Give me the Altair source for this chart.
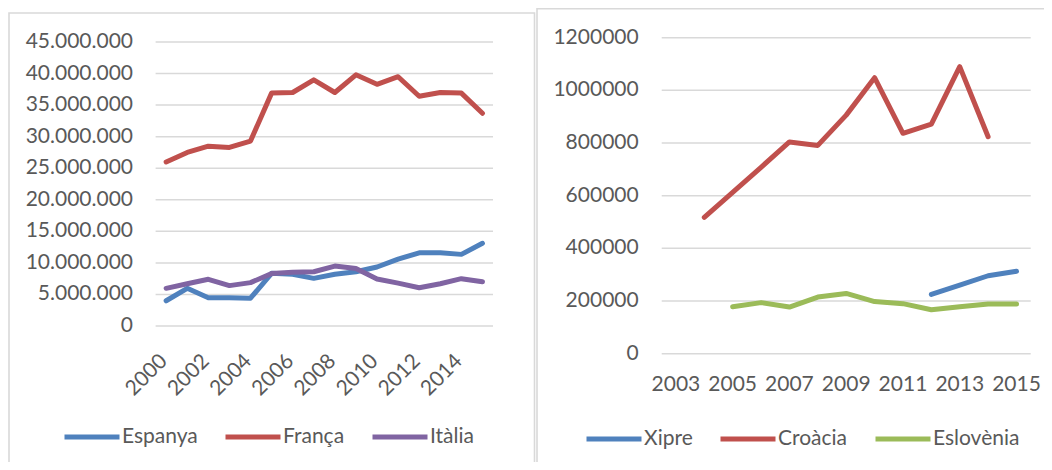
import altair as alt
import pandas as pd

# ---------------- data ----------------
years_left = list(range(2000, 2016))
espanya = [4.0e6, 5.97e6, 4.48e6, 4.48e6, 4.4e6, 8.34e6, 8.2e6, 7.55e6, 8.2e6, 8.6e6,
           9.35e6, 10.6e6, 11.6e6, 11.6e6, 11.35e6, 13.1e6]
franca = [26.0e6, 27.5e6, 28.5e6, 28.3e6, 29.3e6, 36.9e6, 37.0e6, 39.0e6, 37.0e6, 39.8e6,
          38.3e6, 39.5e6, 36.4e6, 37.0e6, 36.9e6, 33.7e6]
italia = [5.97e6, 6.7e6, 7.4e6, 6.4e6, 6.87e6, 8.3e6, 8.5e6, 8.6e6, 9.5e6, 9.1e6,
          7.45e6, 6.8e6, 6.07e6, 6.7e6, 7.5e6, 7.0e6]
names_left = ["Espanya", "França", "Itàlia"]
colors_left = ["#4f81bd", "#c0504d", "#8064a2"]
yticks_left = [0, 5e6, 10e6, 15e6, 20e6, 25e6, 30e6, 35e6, 40e6, 45e6]
ylabels_left = ["0", "5.000.000", "10.000.000", "15.000.000", "20.000.000", "25.000.000",
                "30.000.000", "35.000.000", "40.000.000", "45.000.000"]
xticks_left = [2000, 2002, 2004, 2006, 2008, 2010, 2012, 2014]

years_xipre = [2012, 2013, 2014, 2015]
xipre = [225000, 260000, 296000, 313000]
years_croacia = list(range(2004, 2015))
croacia = [518000, 613000, 708000, 804000, 791000, 906000, 1048000, 837000, 872000, 1090000, 824000]
years_eslovenia = list(range(2005, 2016))
eslovenia = [178000, 194000, 177000, 215000, 229000, 198000, 190000, 167000, 178000, 189000, 189000]
names_right = ["Xipre", "Croàcia", "Eslovènia"]
colors_right = ["#4f81bd", "#c0504d", "#9bbb59"]
yticks_right = [0, 200000, 400000, 600000, 800000, 1000000, 1200000]
xticks_right = [2003, 2005, 2007, 2009, 2011, 2013, 2015]

# ---------------- layout ----------------
W, H = 1036, 454
FONT = "Lato"
TXT = "#595959"
GRID = "#d9d9d9"
FS = 21
LX, LY = [147.6, 485.0], [318.0, 34.0]
RX, RY = [653.7, 1022.7], [345.7, 29.7]

left_df = pd.DataFrame({
    "Any": years_left * 3,
    "Valor": espanya + franca + italia,
    "País": [names_left[0]] * 16 + [names_left[1]] * 16 + [names_left[2]] * 16,
})
right_df = pd.DataFrame({
    "Any": years_xipre + years_croacia + years_eslovenia,
    "Valor": xipre + croacia + eslovenia,
    "País": [names_right[0]] * len(xipre) + [names_right[1]] * len(croacia)
            + [names_right[2]] * len(eslovenia),
})

def legend(x, y):
    return alt.Legend(orient="none", legendX=x, legendY=y, direction="horizontal", title=None,
                      symbolType="stroke", symbolSize=3025, symbolStrokeWidth=5,
                      labelFontSize=FS, labelFont=FONT, labelColor=TXT,
                      columnPadding=17, labelOffset=0, padding=0)

def panel(df, xdom, xr, ydom, yr, yticks, ylabels, xticks, names, colors, lab_x,
          rotated, border, leg_xy):
    xs = alt.Scale(domain=xdom, range=xr, nice=False, zero=False)
    ys = alt.Scale(domain=ydom, range=yr, nice=False, zero=False)
    one = pd.DataFrame({"k": [0]})
    frame = alt.Chart(one).mark_rect(fill="white", stroke=GRID, strokeWidth=1.6).encode(
        x=alt.value(border[0]), x2=alt.value(border[1]),
        y=alt.value(border[2]), y2=alt.value(border[3]))
    gdf = pd.DataFrame({"Valor": yticks, "lab": ylabels})
    grid = alt.Chart(gdf).mark_rule(color=GRID, strokeWidth=1.5).encode(
        y=alt.Y("Valor:Q", scale=ys, axis=None),
        x=alt.value(xr[0]), x2=alt.value(xr[1]))
    ylab = alt.Chart(gdf).mark_text(align="right", baseline="middle", fontSize=FS,
                                    font=FONT, color=TXT).encode(
        y=alt.Y("Valor:Q", scale=ys, axis=None), x=alt.value(lab_x), text="lab:N")
    xdf = pd.DataFrame({"Any": xticks, "lab": [str(v) for v in xticks]})
    if rotated:
        xlab = alt.Chart(xdf).mark_text(align="right", baseline="middle", angle=315,
                                        fontSize=FS, font=FONT, color=TXT, dx=-3).encode(
            x=alt.X("Any:Q", scale=xs, axis=None), y=alt.value(yr[0] + 30), text="lab:N")
    else:
        xlab = alt.Chart(xdf).mark_text(align="center", baseline="middle",
                                        fontSize=FS, font=FONT, color=TXT).encode(
            x=alt.X("Any:Q", scale=xs, axis=None), y=alt.value(yr[0] + 31), text="lab:N")
    lines = alt.Chart(df).mark_line(strokeWidth=5, strokeCap="round", strokeJoin="round").encode(
        x=alt.X("Any:Q", scale=xs, axis=None),
        y=alt.Y("Valor:Q", scale=ys, axis=None),
        color=alt.Color("País:N", scale=alt.Scale(domain=names, range=colors),
                        legend=legend(*leg_xy)),
        order=alt.Order("Any:Q"))
    return alt.layer(frame, grid, ylab, xlab, lines)

left = panel(left_df, [1999.5, 2015.5], LX, [0, 45e6], LY, yticks_left, ylabels_left,
             xticks_left, names_left, colors_left, 125, True, [1, 526.5, 5, 470], (54, 399))
right = panel(right_df, [2002.5, 2015.5], RX, [0, 1200000], RY, yticks_right,
              [str(v) for v in yticks_right], xticks_right, names_right, colors_right,
              630.7, False, [529, 1060, 0.8, 470], (576, 401))

chart = alt.layer(left, right).resolve_scale(
    x="independent", y="independent", color="independent"
).properties(
    width=W, height=H, padding=0, autosize=alt.AutoSizeParams(type="none")
).configure_view(stroke=None)

chart.save("out.html", embed_options={"renderer": "svg", "actions": False})
